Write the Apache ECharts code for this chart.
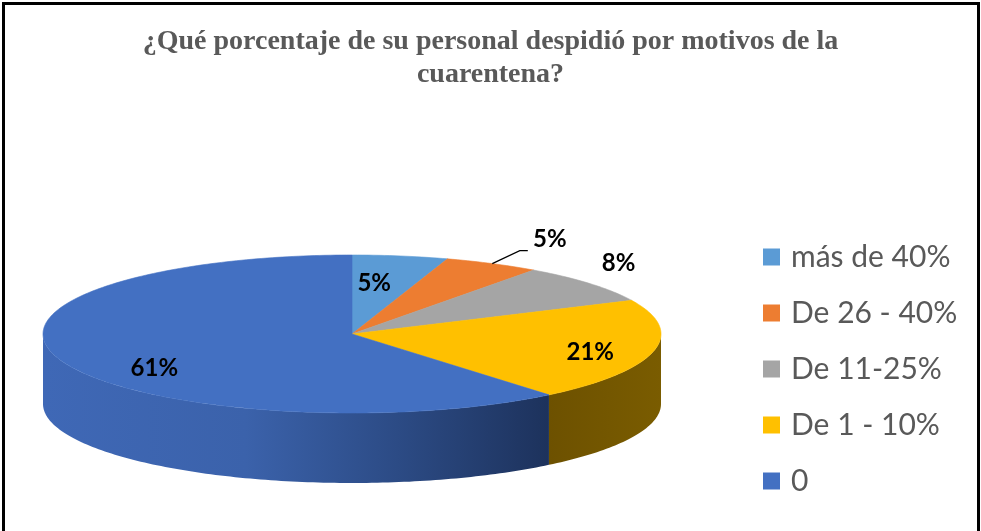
<!DOCTYPE html>
<html>
<head>
<meta charset="utf-8">
<script src="https://cdn.jsdelivr.net/npm/echarts@6/dist/echarts.min.js"></script>
<style>
  html, body { margin: 0; padding: 0; background: #ffffff; }
  #chart { width: 981px; height: 531px; }
</style>
</head>
<body>
<div id="chart"></div>
<script>
// Answer categories, in clockwise order starting at 12 o'clock
const categories = ['más de 40%', 'De 26 - 40%', 'De 11-25%', 'De 1 - 10%', '0'];
// Share of respondents per category (percent)
const values = [5, 5, 8, 21, 61];

const titleText = '¿Qué porcentaje de su personal despidió por motivos de la\ncuarentena?';

// Styling
const topColors = ['#5B9BD5', '#ED7D31', '#A5A5A5', '#FFC000', '#4370C2'];
const sideStops = [
  [[0, '#41719c'], [1, '#2e5a80']],
  [[0, '#ae5a21'], [1, '#8a461a']],
  [[0, '#7c7c7c'], [1, '#5f5f5f']],
  [[0, '#6d5100'], [1, '#7a5c00']],
  [[0, '#3f68b6'], [0.4, '#3b62ab'], [0.7, '#2c4b85'], [1, '#1d325c']]
];
// Label placement factors (relative to the ellipse radii) along each slice's mid-angle
const labelFx = [0.46, 1.41, 1.12, 0.79, 0.68];
const labelFy = [0.65, 1.34, 1.41, 1.05, 1.27];
const labelLeader = [false, true, false, false, false];

// Ellipse geometry of the tilted pie
const PIE = { cx: 352, cy: 334, rx: 309, ry: 79, depth: 70 };

const total = values.reduce((a, b) => a + b, 0);
const startAngles = [];
const endAngles = [];
(function () {
  let acc = 0;
  values.forEach(function (v) {
    startAngles.push(acc / total * 360);
    acc += v;
    endAngles.push(acc / total * 360);
  });
})();

function pt(deg, dy) {
  const r = deg * Math.PI / 180;
  return [PIE.cx + PIE.rx * Math.sin(r), PIE.cy - PIE.ry * Math.cos(r) + (dy || 0)];
}

function arcPoints(a0, a1, dy) {
  const pts = [];
  const n = Math.max(2, Math.ceil(Math.abs(a1 - a0)));
  for (let i = 0; i <= n; i++) pts.push(pt(a0 + (a1 - a0) * i / n, dy));
  return pts;
}

function makeRenderItem(idx) {
  return function (params, api) {
    const a0 = startAngles[idx];
    const a1 = endAngles[idx];
    const children = [];

    // front wall: visible part of the slice between 90° and 270°
    const s0 = Math.max(a0, 90);
    const s1 = Math.min(a1, 270);
    if (s1 > s0) {
      const topArc = arcPoints(s0, s1, 0);
      const botArc = arcPoints(s1, s0, PIE.depth);
      children.push({
        type: 'polygon',
        shape: { points: topArc.concat(botArc) },
        style: {
          fill: new echarts.graphic.LinearGradient(0, 0, 1, 0,
            sideStops[idx].map(function (s) { return { offset: s[0], color: s[1] }; })),
          stroke: null
        },
        z2: 1
      });
    }

    // top face
    const face = [[PIE.cx, PIE.cy]].concat(arcPoints(a0, a1, 0));
    children.push({
      type: 'polygon',
      shape: { points: face },
      style: { fill: topColors[idx], stroke: topColors[idx], lineWidth: 0.6 },
      z2: 2
    });

    // value label
    const mid = (a0 + a1) / 2 * Math.PI / 180;
    const lx = PIE.cx + labelFx[idx] * PIE.rx * Math.sin(mid);
    const ly = PIE.cy - labelFy[idx] * PIE.ry * Math.cos(mid);
    if (labelLeader[idx]) {
      const e = pt((a0 + a1) / 2, 0);
      children.push({
        type: 'polyline',
        shape: { points: [e, [lx - 30, ly + 11], [lx - 22, ly + 11]] },
        style: { stroke: '#000000', lineWidth: 1.2, fill: null },
        z2: 3
      });
    }
    children.push({
      type: 'text',
      x: lx,
      y: ly,
      style: {
        text: values[idx] + '%',
        fill: '#000000',
        font: 'bold 24px Lato',
        align: 'center',
        verticalAlign: 'middle'
      },
      z2: 4
    });

    return { type: 'group', children: children };
  };
}

const series = categories.map(function (name, i) {
  return {
    type: 'custom',
    name: name,
    coordinateSystem: 'none',
    itemStyle: { color: topColors[i] },
    data: [[values[i]]],
    renderItem: makeRenderItem(i),
    silent: true
  };
});

const chart = echarts.init(document.getElementById('chart'), null, { renderer: 'canvas' });
chart.setOption({
  backgroundColor: '#ffffff',
  animation: false,
  title: {
    text: titleText,
    left: 'center',
    top: 20,
    textStyle: {
      fontFamily: 'Liberation Serif',
      fontWeight: 'bold',
      fontSize: 28,
      lineHeight: 33,
      color: '#595959'
    }
  },
  legend: {
    orient: 'vertical',
    left: 763,
    top: 241,
    padding: 0,
    icon: 'rect',
    itemWidth: 17,
    itemHeight: 17,
    itemGap: 24,
    selectedMode: false,
    data: categories,
    textStyle: {
      fontFamily: 'Lato',
      fontSize: 30,
      lineHeight: 32,
      color: '#595959',
      padding: [0, 0, 0, 6]
    }
  },
  graphic: [{
    type: 'rect',
    shape: { x: 3.5, y: 3.5, width: 975, height: 560 },
    style: { fill: null, stroke: '#000000', lineWidth: 3 },
    z: 100
  }],
  series: series
});
</script>
</body>
</html>
